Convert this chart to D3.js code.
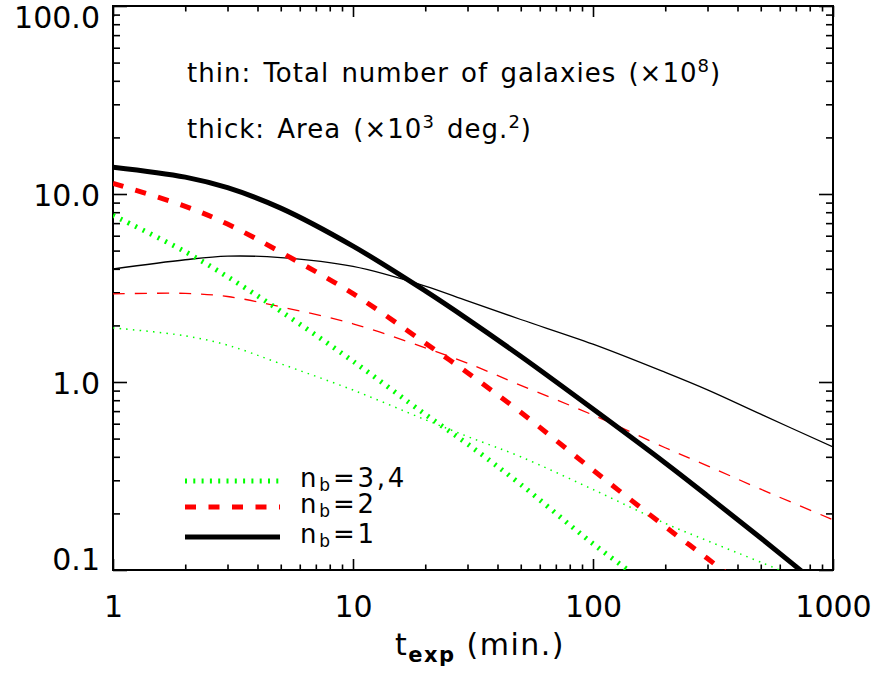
<!DOCTYPE html>
<html><head><meta charset="utf-8">
<script src="https://cdn.jsdelivr.net/npm/d3@7"></script>
<style>body{margin:0;background:#fff}svg{display:block}text{font-family:"DejaVu Sans",sans-serif;fill:#000}</style>
</head><body>
<svg id="c" width="879" height="675"></svg>
<script>
// exposure time (min.)
const tExp = [1, 2, 3, 5, 10, 20, 30, 50, 100, 200, 300, 500, 1000];
// thick: Area (x10^3 deg^2)
const area_nb1  = [13.9, 12.3, 10.8, 8.41, 5.28, 3.05, 2.16, 1.37, 0.718, 0.371, 0.248, 0.148, 0.072];
const area_nb2  = [11.4, 8.6, 6.92, 4.90, 2.95, 1.61, 1.12, 0.69, 0.34, 0.17, 0.115, 0.069, 0.034];
const area_nb34 = [7.7, 4.93, 3.63, 2.38, 1.29, 0.673, 0.468, 0.285, 0.138, 0.071, 0.047, 0.028, 0.014];
// thin: Total number of galaxies (x10^8)
const ngal_nb1  = [3.99, 4.47, 4.67, 4.59, 4.12, 3.24, 2.70, 2.15, 1.59, 1.125, 0.908, 0.674, 0.451];
const ngal_nb2  = [2.94, 2.96, 2.85, 2.51, 2.04, 1.52, 1.26, 0.96, 0.667, 0.447, 0.358, 0.269, 0.185];
const ngal_nb34 = [1.94, 1.76, 1.57, 1.25, 0.906, 0.63, 0.513, 0.40, 0.268, 0.177, 0.143, 0.110, 0.076];

const xMajor = [1, 10, 100, 1000];
const xLabels = ["1", "10", "100", "1000"];
const yMajor = [0.1, 1, 10, 100];
const yLabels = ["0.1", "1.0", "10.0", "100.0"];
const legendLabels = [["n", "b", "=3,4"], ["n", "b", "=2"], ["n", "b", "=1"]];

const svg = d3.select("#c");
const L = 113, R = 833, T = 6, B = 570;
const x = d3.scaleLog().domain([1, 1000]).range([L, R]);
const y = d3.scaleLog().domain([0.1, 100]).range([B, T]);

function minors(lo, hi) {
  const out = [];
  for (let d = lo; d < hi; d *= 10) for (let k = 2; k <= 9; k++) out.push(d * k);
  return out;
}
const xMinor = minors(1, 1000), yMinor = minors(0.1, 100);

svg.append("defs").append("clipPath").attr("id", "clip")
  .append("rect").attr("x", L).attr("y", T).attr("width", R - L).attr("height", B - T);

// axes
function styleAxis(g) {
  g.select(".domain").remove();
  g.selectAll(".tick line").attr("stroke", "#000").attr("stroke-width", 1.6);
  g.selectAll("text").style("font-size", "30px").style("font-family", '"DejaVu Sans", sans-serif');
}
const gxb = svg.append("g").attr("transform", `translate(0,${B})`)
  .call(d3.axisBottom(x).tickValues(xMajor).tickSize(-11).tickPadding(26).tickFormat((d, i) => xLabels[i]));
styleAxis(gxb);
gxb.selectAll("text").attr("dy", "0.71em");
svg.append("g").attr("transform", `translate(0,${B})`)
  .call(d3.axisBottom(x).tickValues(xMinor).tickSize(-5.5).tickFormat("")).call(styleAxis);
svg.append("g").attr("transform", `translate(0,${T})`)
  .call(d3.axisTop(x).tickValues(xMajor).tickSize(-11).tickFormat("")).call(styleAxis);
svg.append("g").attr("transform", `translate(0,${T})`)
  .call(d3.axisTop(x).tickValues(xMinor).tickSize(-5.5).tickFormat("")).call(styleAxis);

const gyl = svg.append("g").attr("transform", `translate(${L},0)`)
  .call(d3.axisLeft(y).tickValues(yMajor).tickSize(-14).tickPadding(13).tickFormat((d, i) => yLabels[i]));
styleAxis(gyl);
gyl.selectAll("text").attr("dy", (d) => d === 100 ? "0.72em" : d === 0.1 ? "-0.02em" : "0.38em");
svg.append("g").attr("transform", `translate(${L},0)`)
  .call(d3.axisLeft(y).tickValues(yMinor).tickSize(-7).tickFormat("")).call(styleAxis);
svg.append("g").attr("transform", `translate(${R},0)`)
  .call(d3.axisRight(y).tickValues(yMajor).tickSize(-14).tickFormat("")).call(styleAxis);
svg.append("g").attr("transform", `translate(${R},0)`)
  .call(d3.axisRight(y).tickValues(yMinor).tickSize(-7).tickFormat("")).call(styleAxis);

svg.append("rect").attr("x", L).attr("y", T).attr("width", R - L).attr("height", B - T)
  .attr("fill", "none").attr("stroke", "#000").attr("stroke-width", 2);

// curves
const line = d3.line().x(d => x(d[0])).y(d => y(d[1])).curve(d3.curveCatmullRom.alpha(0.5));
const series = [
  { v: ngal_nb34, color: "#00ff00", w: 1.5, dash: "1.5,5.2" },
  { v: ngal_nb2,  color: "#ff0000", w: 1.3, dash: "12,10" },
  { v: ngal_nb1,  color: "#000000", w: 1.3, dash: null },
  { v: area_nb34, color: "#00ff00", w: 5, dash: "2,6.3" },
  { v: area_nb2,  color: "#ff0000", w: 5, dash: "11,12.5" },
  { v: area_nb1,  color: "#000000", w: 5, dash: null },
];
const gp = svg.append("g").attr("clip-path", "url(#clip)");
series.forEach(s => {
  gp.append("path").datum(tExp.map((t, i) => [t, s.v[i]]))
    .attr("d", line).attr("fill", "none").attr("stroke", s.color)
    .attr("stroke-width", s.w).attr("stroke-dasharray", s.dash);
});

// annotation
const a1 = svg.append("text").attr("x", 187).attr("y", 82).style("font-size", "26px")
  .style("letter-spacing", "1px").style("word-spacing", "3px");
a1.append("tspan").text("thin: Total number of galaxies (×10");
a1.append("tspan").attr("dy", -10).style("font-size", "18px").text("8");
a1.append("tspan").attr("dy", 10).text(")");
const a2 = svg.append("text").attr("x", 187).attr("y", 138).style("font-size", "26px")
  .style("letter-spacing", "1px").style("word-spacing", "3px");
a2.append("tspan").text("thick: Area (×10");
a2.append("tspan").attr("dy", -10).style("font-size", "18px").text("3");
a2.append("tspan").attr("dy", 10).text(" deg.");
a2.append("tspan").attr("dy", -10).style("font-size", "18px").text("2");
a2.append("tspan").attr("dy", 10).text(")");

// legend
const legY = [481, 507, 537];
const legStyle = [series[3], series[4], series[5]];
legendLabels.forEach((lab, i) => {
  const s = legStyle[i];
  svg.append("line").attr("x1", 185).attr("x2", 280).attr("y1", legY[i]).attr("y2", legY[i])
    .attr("stroke", s.color).attr("stroke-width", s.w).attr("stroke-dasharray", s.dash);
  const t = svg.append("text").attr("x", 300).attr("y", legY[i] + 6).style("font-size", "26px")
    .style("letter-spacing", "2.8px");
  t.append("tspan").text(lab[0]);
  t.append("tspan").attr("dy", 4).style("font-size", "17px").text(lab[1]);
  t.append("tspan").attr("dy", -4).text(lab[2]);
});

// x title
const xt = svg.append("text").attr("x", 480).attr("y", 655).attr("text-anchor", "middle")
  .style("font-size", "30px").style("letter-spacing", "1.5px");
xt.append("tspan").text("t");
xt.append("tspan").attr("dy", 7).style("font-size", "21px").style("font-weight", "bold").text("exp");
xt.append("tspan").attr("dy", -7).text(" (min.)");
</script>
</body></html>
